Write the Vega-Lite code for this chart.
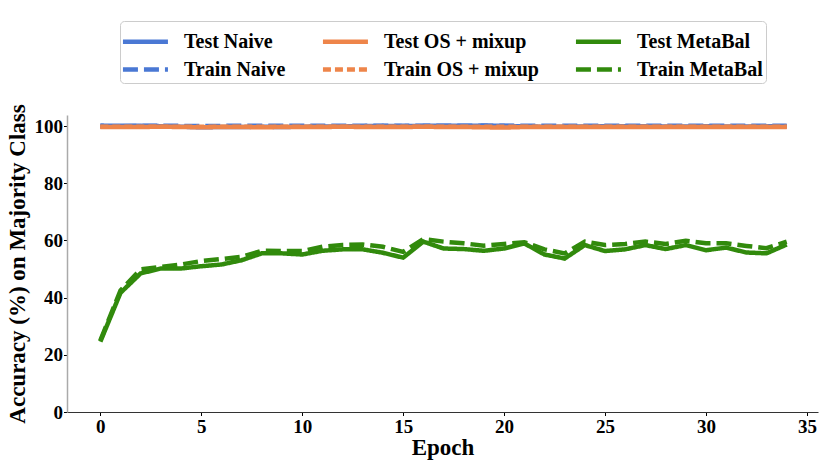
{
  "$schema": "https://vega.github.io/schema/vega-lite/v6.json",
  "width": 751,
  "height": 297,
  "autosize": {"type": "none"},
  "padding": {"left": 67, "top": 115, "right": 12, "bottom": 55},
  "background": "white",
  "config": {
    "font": "Liberation Serif",
    "view": {"stroke": null},
    "axis": {
      "labelFont": "Liberation Serif",
      "labelFontSize": 19,
      "labelFontWeight": "bold",
      "labelColor": "black",
      "titleFont": "Liberation Serif",
      "titleFontSize": 23,
      "titleFontWeight": "bold",
      "titleColor": "black",
      "tickColor": "black",
      "tickSize": 3.5,
      "labelPadding": 2,
      "grid": false
    }
  },
  "data": {
    "values": [
      {"epoch": 0, "series": "Test Naive", "acc": 100.2}, {"epoch": 1, "series": "Test Naive", "acc": 100.1}, {"epoch": 2, "series": "Test Naive", "acc": 100.1}, {"epoch": 3, "series": "Test Naive", "acc": 100.0}, {"epoch": 4, "series": "Test Naive", "acc": 99.8}, {"epoch": 5, "series": "Test Naive", "acc": 99.6}, {"epoch": 6, "series": "Test Naive", "acc": 99.7}, {"epoch": 7, "series": "Test Naive", "acc": 99.7}, {"epoch": 8, "series": "Test Naive", "acc": 99.8}, {"epoch": 9, "series": "Test Naive", "acc": 99.7}, {"epoch": 10, "series": "Test Naive", "acc": 99.8}, {"epoch": 11, "series": "Test Naive", "acc": 99.9}, {"epoch": 12, "series": "Test Naive", "acc": 99.9}, {"epoch": 13, "series": "Test Naive", "acc": 100.0}, {"epoch": 14, "series": "Test Naive", "acc": 100.1}, {"epoch": 15, "series": "Test Naive", "acc": 100.0}, {"epoch": 16, "series": "Test Naive", "acc": 100.1}, {"epoch": 17, "series": "Test Naive", "acc": 100.1}, {"epoch": 18, "series": "Test Naive", "acc": 100.1}, {"epoch": 19, "series": "Test Naive", "acc": 100.2}, {"epoch": 20, "series": "Test Naive", "acc": 100.1}, {"epoch": 21, "series": "Test Naive", "acc": 99.9}, {"epoch": 22, "series": "Test Naive", "acc": 99.8}, {"epoch": 23, "series": "Test Naive", "acc": 99.8}, {"epoch": 24, "series": "Test Naive", "acc": 99.9}, {"epoch": 25, "series": "Test Naive", "acc": 100.0}, {"epoch": 26, "series": "Test Naive", "acc": 100.0}, {"epoch": 27, "series": "Test Naive", "acc": 100.0}, {"epoch": 28, "series": "Test Naive", "acc": 99.9}, {"epoch": 29, "series": "Test Naive", "acc": 99.9}, {"epoch": 30, "series": "Test Naive", "acc": 100.0}, {"epoch": 31, "series": "Test Naive", "acc": 99.9}, {"epoch": 32, "series": "Test Naive", "acc": 99.9}, {"epoch": 33, "series": "Test Naive", "acc": 100.0}, {"epoch": 34, "series": "Test Naive", "acc": 99.9},
      {"epoch": 0, "series": "Train Naive", "acc": 99.9}, {"epoch": 1, "series": "Train Naive", "acc": 100.0}, {"epoch": 2, "series": "Train Naive", "acc": 100.1}, {"epoch": 3, "series": "Train Naive", "acc": 100.1}, {"epoch": 4, "series": "Train Naive", "acc": 100.1}, {"epoch": 5, "series": "Train Naive", "acc": 100.0}, {"epoch": 6, "series": "Train Naive", "acc": 100.1}, {"epoch": 7, "series": "Train Naive", "acc": 100.1}, {"epoch": 8, "series": "Train Naive", "acc": 100.1}, {"epoch": 9, "series": "Train Naive", "acc": 100.1}, {"epoch": 10, "series": "Train Naive", "acc": 100.1}, {"epoch": 11, "series": "Train Naive", "acc": 100.1}, {"epoch": 12, "series": "Train Naive", "acc": 100.1}, {"epoch": 13, "series": "Train Naive", "acc": 100.1}, {"epoch": 14, "series": "Train Naive", "acc": 100.1}, {"epoch": 15, "series": "Train Naive", "acc": 100.1}, {"epoch": 16, "series": "Train Naive", "acc": 100.1}, {"epoch": 17, "series": "Train Naive", "acc": 100.1}, {"epoch": 18, "series": "Train Naive", "acc": 100.1}, {"epoch": 19, "series": "Train Naive", "acc": 100.1}, {"epoch": 20, "series": "Train Naive", "acc": 100.1}, {"epoch": 21, "series": "Train Naive", "acc": 100.1}, {"epoch": 22, "series": "Train Naive", "acc": 100.1}, {"epoch": 23, "series": "Train Naive", "acc": 100.1}, {"epoch": 24, "series": "Train Naive", "acc": 100.1}, {"epoch": 25, "series": "Train Naive", "acc": 100.1}, {"epoch": 26, "series": "Train Naive", "acc": 100.1}, {"epoch": 27, "series": "Train Naive", "acc": 100.1}, {"epoch": 28, "series": "Train Naive", "acc": 100.1}, {"epoch": 29, "series": "Train Naive", "acc": 100.1}, {"epoch": 30, "series": "Train Naive", "acc": 100.1}, {"epoch": 31, "series": "Train Naive", "acc": 100.1}, {"epoch": 32, "series": "Train Naive", "acc": 100.1}, {"epoch": 33, "series": "Train Naive", "acc": 100.1}, {"epoch": 34, "series": "Train Naive", "acc": 100.1},
      {"epoch": 0, "series": "Test OS + mixup", "acc": 99.7}, {"epoch": 1, "series": "Test OS + mixup", "acc": 99.7}, {"epoch": 2, "series": "Test OS + mixup", "acc": 99.7}, {"epoch": 3, "series": "Test OS + mixup", "acc": 99.8}, {"epoch": 4, "series": "Test OS + mixup", "acc": 99.7}, {"epoch": 5, "series": "Test OS + mixup", "acc": 99.6}, {"epoch": 6, "series": "Test OS + mixup", "acc": 99.7}, {"epoch": 7, "series": "Test OS + mixup", "acc": 99.7}, {"epoch": 8, "series": "Test OS + mixup", "acc": 99.6}, {"epoch": 9, "series": "Test OS + mixup", "acc": 99.7}, {"epoch": 10, "series": "Test OS + mixup", "acc": 99.7}, {"epoch": 11, "series": "Test OS + mixup", "acc": 99.7}, {"epoch": 12, "series": "Test OS + mixup", "acc": 99.8}, {"epoch": 13, "series": "Test OS + mixup", "acc": 99.7}, {"epoch": 14, "series": "Test OS + mixup", "acc": 99.7}, {"epoch": 15, "series": "Test OS + mixup", "acc": 99.7}, {"epoch": 16, "series": "Test OS + mixup", "acc": 99.8}, {"epoch": 17, "series": "Test OS + mixup", "acc": 99.7}, {"epoch": 18, "series": "Test OS + mixup", "acc": 99.7}, {"epoch": 19, "series": "Test OS + mixup", "acc": 99.6}, {"epoch": 20, "series": "Test OS + mixup", "acc": 99.5}, {"epoch": 21, "series": "Test OS + mixup", "acc": 99.7}, {"epoch": 22, "series": "Test OS + mixup", "acc": 99.7}, {"epoch": 23, "series": "Test OS + mixup", "acc": 99.7}, {"epoch": 24, "series": "Test OS + mixup", "acc": 99.7}, {"epoch": 25, "series": "Test OS + mixup", "acc": 99.7}, {"epoch": 26, "series": "Test OS + mixup", "acc": 99.7}, {"epoch": 27, "series": "Test OS + mixup", "acc": 99.7}, {"epoch": 28, "series": "Test OS + mixup", "acc": 99.7}, {"epoch": 29, "series": "Test OS + mixup", "acc": 99.7}, {"epoch": 30, "series": "Test OS + mixup", "acc": 99.7}, {"epoch": 31, "series": "Test OS + mixup", "acc": 99.7}, {"epoch": 32, "series": "Test OS + mixup", "acc": 99.7}, {"epoch": 33, "series": "Test OS + mixup", "acc": 99.7}, {"epoch": 34, "series": "Test OS + mixup", "acc": 99.7},
      {"epoch": 0, "series": "Train OS + mixup", "acc": 99.8}, {"epoch": 1, "series": "Train OS + mixup", "acc": 99.8}, {"epoch": 2, "series": "Train OS + mixup", "acc": 99.8}, {"epoch": 3, "series": "Train OS + mixup", "acc": 99.8}, {"epoch": 4, "series": "Train OS + mixup", "acc": 99.8}, {"epoch": 5, "series": "Train OS + mixup", "acc": 99.8}, {"epoch": 6, "series": "Train OS + mixup", "acc": 99.8}, {"epoch": 7, "series": "Train OS + mixup", "acc": 99.8}, {"epoch": 8, "series": "Train OS + mixup", "acc": 99.8}, {"epoch": 9, "series": "Train OS + mixup", "acc": 99.8}, {"epoch": 10, "series": "Train OS + mixup", "acc": 99.8}, {"epoch": 11, "series": "Train OS + mixup", "acc": 99.8}, {"epoch": 12, "series": "Train OS + mixup", "acc": 99.8}, {"epoch": 13, "series": "Train OS + mixup", "acc": 99.8}, {"epoch": 14, "series": "Train OS + mixup", "acc": 99.8}, {"epoch": 15, "series": "Train OS + mixup", "acc": 99.8}, {"epoch": 16, "series": "Train OS + mixup", "acc": 99.8}, {"epoch": 17, "series": "Train OS + mixup", "acc": 99.8}, {"epoch": 18, "series": "Train OS + mixup", "acc": 99.8}, {"epoch": 19, "series": "Train OS + mixup", "acc": 99.8}, {"epoch": 20, "series": "Train OS + mixup", "acc": 99.8}, {"epoch": 21, "series": "Train OS + mixup", "acc": 99.8}, {"epoch": 22, "series": "Train OS + mixup", "acc": 99.8}, {"epoch": 23, "series": "Train OS + mixup", "acc": 99.8}, {"epoch": 24, "series": "Train OS + mixup", "acc": 99.8}, {"epoch": 25, "series": "Train OS + mixup", "acc": 99.8}, {"epoch": 26, "series": "Train OS + mixup", "acc": 99.8}, {"epoch": 27, "series": "Train OS + mixup", "acc": 99.8}, {"epoch": 28, "series": "Train OS + mixup", "acc": 99.8}, {"epoch": 29, "series": "Train OS + mixup", "acc": 99.8}, {"epoch": 30, "series": "Train OS + mixup", "acc": 99.8}, {"epoch": 31, "series": "Train OS + mixup", "acc": 99.8}, {"epoch": 32, "series": "Train OS + mixup", "acc": 99.8}, {"epoch": 33, "series": "Train OS + mixup", "acc": 99.8}, {"epoch": 34, "series": "Train OS + mixup", "acc": 99.8},
      {"epoch": 0, "series": "Test MetaBal", "acc": 24.6}, {"epoch": 1, "series": "Test MetaBal", "acc": 41.7}, {"epoch": 2, "series": "Test MetaBal", "acc": 48.5}, {"epoch": 3, "series": "Test MetaBal", "acc": 50.2}, {"epoch": 4, "series": "Test MetaBal", "acc": 50.2}, {"epoch": 5, "series": "Test MetaBal", "acc": 51.0}, {"epoch": 6, "series": "Test MetaBal", "acc": 51.6}, {"epoch": 7, "series": "Test MetaBal", "acc": 53.1}, {"epoch": 8, "series": "Test MetaBal", "acc": 55.5}, {"epoch": 9, "series": "Test MetaBal", "acc": 55.5}, {"epoch": 10, "series": "Test MetaBal", "acc": 55.1}, {"epoch": 11, "series": "Test MetaBal", "acc": 56.4}, {"epoch": 12, "series": "Test MetaBal", "acc": 56.9}, {"epoch": 13, "series": "Test MetaBal", "acc": 56.9}, {"epoch": 14, "series": "Test MetaBal", "acc": 55.7}, {"epoch": 15, "series": "Test MetaBal", "acc": 54.0}, {"epoch": 16, "series": "Test MetaBal", "acc": 59.6}, {"epoch": 17, "series": "Test MetaBal", "acc": 57.2}, {"epoch": 18, "series": "Test MetaBal", "acc": 57.0}, {"epoch": 19, "series": "Test MetaBal", "acc": 56.4}, {"epoch": 20, "series": "Test MetaBal", "acc": 57.2}, {"epoch": 21, "series": "Test MetaBal", "acc": 59.0}, {"epoch": 22, "series": "Test MetaBal", "acc": 55.1}, {"epoch": 23, "series": "Test MetaBal", "acc": 53.7}, {"epoch": 24, "series": "Test MetaBal", "acc": 58.4}, {"epoch": 25, "series": "Test MetaBal", "acc": 56.3}, {"epoch": 26, "series": "Test MetaBal", "acc": 56.9}, {"epoch": 27, "series": "Test MetaBal", "acc": 58.4}, {"epoch": 28, "series": "Test MetaBal", "acc": 57.0}, {"epoch": 29, "series": "Test MetaBal", "acc": 58.4}, {"epoch": 30, "series": "Test MetaBal", "acc": 56.6}, {"epoch": 31, "series": "Test MetaBal", "acc": 57.5}, {"epoch": 32, "series": "Test MetaBal", "acc": 55.8}, {"epoch": 33, "series": "Test MetaBal", "acc": 55.5}, {"epoch": 34, "series": "Test MetaBal", "acc": 58.6},
      {"epoch": 0, "series": "Train MetaBal", "acc": 25.0}, {"epoch": 1, "series": "Train MetaBal", "acc": 42.5}, {"epoch": 2, "series": "Train MetaBal", "acc": 49.9}, {"epoch": 3, "series": "Train MetaBal", "acc": 50.8}, {"epoch": 4, "series": "Train MetaBal", "acc": 51.6}, {"epoch": 5, "series": "Train MetaBal", "acc": 52.8}, {"epoch": 6, "series": "Train MetaBal", "acc": 53.5}, {"epoch": 7, "series": "Train MetaBal", "acc": 54.3}, {"epoch": 8, "series": "Train MetaBal", "acc": 56.4}, {"epoch": 9, "series": "Train MetaBal", "acc": 56.3}, {"epoch": 10, "series": "Train MetaBal", "acc": 56.3}, {"epoch": 11, "series": "Train MetaBal", "acc": 57.8}, {"epoch": 12, "series": "Train MetaBal", "acc": 58.4}, {"epoch": 13, "series": "Train MetaBal", "acc": 58.6}, {"epoch": 14, "series": "Train MetaBal", "acc": 57.8}, {"epoch": 15, "series": "Train MetaBal", "acc": 56.0}, {"epoch": 16, "series": "Train MetaBal", "acc": 60.5}, {"epoch": 17, "series": "Train MetaBal", "acc": 59.6}, {"epoch": 18, "series": "Train MetaBal", "acc": 59.0}, {"epoch": 19, "series": "Train MetaBal", "acc": 58.2}, {"epoch": 20, "series": "Train MetaBal", "acc": 58.8}, {"epoch": 21, "series": "Train MetaBal", "acc": 59.4}, {"epoch": 22, "series": "Train MetaBal", "acc": 56.9}, {"epoch": 23, "series": "Train MetaBal", "acc": 55.5}, {"epoch": 24, "series": "Train MetaBal", "acc": 59.6}, {"epoch": 25, "series": "Train MetaBal", "acc": 58.4}, {"epoch": 26, "series": "Train MetaBal", "acc": 58.8}, {"epoch": 27, "series": "Train MetaBal", "acc": 59.6}, {"epoch": 28, "series": "Train MetaBal", "acc": 58.8}, {"epoch": 29, "series": "Train MetaBal", "acc": 59.9}, {"epoch": 30, "series": "Train MetaBal", "acc": 59.0}, {"epoch": 31, "series": "Train MetaBal", "acc": 59.0}, {"epoch": 32, "series": "Train MetaBal", "acc": 58.1}, {"epoch": 33, "series": "Train MetaBal", "acc": 57.3}, {"epoch": 34, "series": "Train MetaBal", "acc": 59.6}
    ]
  },
  "mark": {"type": "line", "clip": true},
  "encoding": {
    "x": {
      "field": "epoch",
      "type": "quantitative",
      "title": "Epoch",
      "scale": {"domain": [-1.65, 35.55], "nice": false, "zero": false},
      "axis": {"values": [0, 5, 10, 15, 20, 25, 30, 35], "domainColor": "#333333", "titlePadding": 0}
    },
    "y": {
      "field": "acc",
      "type": "quantitative",
      "title": "Accuracy (%) on Majority Class",
      "scale": {"domain": [0, 103.9], "nice": false},
      "axis": {"values": [0, 20, 40, 60, 80, 100], "domainColor": "#aaaaaa", "domainWidth": 1.5, "labelPadding": 1, "titlePadding": 5}
    },
    "color": {
      "field": "series",
      "type": "nominal",
      "sort": null,
      "scale": {
        "domain": ["Test Naive", "Train Naive", "Test OS + mixup", "Train OS + mixup", "Test MetaBal", "Train MetaBal"],
        "range": ["#4a78d4", "#4a78d4", "#ee854a", "#ee854a", "#318a0c", "#318a0c"]
      },
      "legend": {
        "title": null,
        "orient": "none",
        "legendX": 53,
        "legendY": -94,
        "columns": 3,
        "symbolType": "M-1.17,0H1.83",
        "symbolSize": 900,
        "labelFont": "Liberation Serif",
        "labelFontSize": 20,
        "labelFontWeight": "bold",
        "labelColor": "black",
        "labelOffset": 26,
        "labelLimit": 300,
        "columnPadding": 27,
        "rowPadding": 0,
        "padding": 3,
        "strokeColor": "#cccccc",
        "cornerRadius": 4,
        "fillColor": "white"
      }
    },
    "strokeDash": {
      "field": "series",
      "type": "nominal",
      "sort": null,
      "scale": {
        "domain": ["Test Naive", "Train Naive", "Test OS + mixup", "Train OS + mixup", "Test MetaBal", "Train MetaBal"],
        "range": [[1, 0], [15, 6], [1, 0], [8, 4], [1, 0], [15, 6]]
      }
    },
    "strokeWidth": {
      "field": "series",
      "type": "nominal",
      "sort": null,
      "scale": {
        "domain": ["Test Naive", "Train Naive", "Test OS + mixup", "Train OS + mixup", "Test MetaBal", "Train MetaBal"],
        "range": [4.5, 4.5, 3, 3, 5.5, 5.5]
      }
    }
  }
}
